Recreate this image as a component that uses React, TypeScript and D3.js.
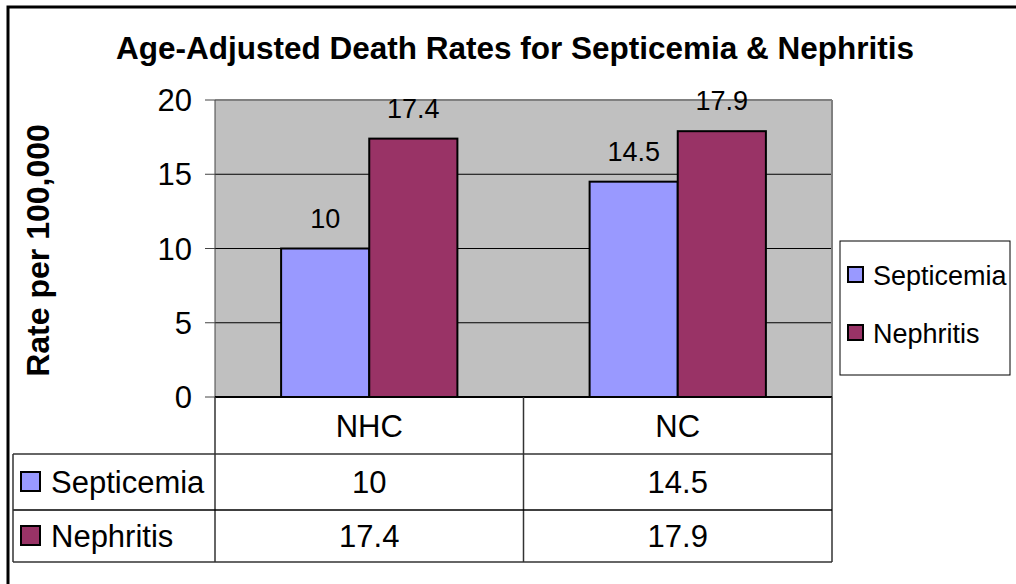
import React from "react";
import { scaleBand, scaleLinear } from "d3";

const categories = ["NHC", "NC"];
const seriesNames = ["Septicemia", "Nephritis"];
const septicemia = [10, 14.5];
const nephritis = [17.4, 17.9];
const seriesValues = [septicemia, nephritis];
const seriesColors = ["#9999FF", "#993366"];
const yTicks = [0, 5, 10, 15, 20];

const FONT = "'Liberation Sans', Arial, sans-serif";

const App: React.FC = () => {
  const width = 1016;
  const height = 584;
  const left = 215;
  const right = 832;
  const top = 100;
  const bottom = 397;

  const x = scaleBand<string>().domain(categories).range([left, right]);
  const barW = x.bandwidth() / 3.5;
  const xs = scaleBand<string>().domain(seriesNames).range([-barW, barW]);
  const y = scaleLinear().domain([0, 20]).range([bottom, top]);

  // table rows
  const catRowBottom = 454;
  const rowBottoms = [510, 562];
  const tableLeft = 13;

  return (
    <div style={{ position: "fixed", left: 0, top: 0 }}>
      <svg width={width} height={height} style={{ display: "block", fontFamily: FONT }}>
        <rect x={0} y={0} width={width} height={height} fill="#fff" />
        {/* outer frame */}
        <rect x={8} y={7} width={width + 20} height={height + 20} fill="none" stroke="#000" strokeWidth={3} />

        <text x={515} y={59} textAnchor="middle" fontSize={31.5} fontWeight="bold">
          Age-Adjusted Death Rates for Septicemia &amp; Nephritis
        </text>

        {/* plot area */}
        <rect x={left} y={top} width={right - left} height={bottom - top} fill="#C0C0C0" />
        {yTicks.filter((t) => t > 0 && t < 20).map((t) => (
          <line key={t} x1={left} x2={right} y1={y(t)} y2={y(t)} stroke="#000" strokeWidth={1} />
        ))}
        <line x1={left} x2={right} y1={top} y2={top} stroke="#808080" strokeWidth={2} />
        <line x1={right} x2={right} y1={top} y2={bottom} stroke="#808080" strokeWidth={2} />
        <line x1={left} x2={left} y1={top} y2={bottom} stroke="#444" strokeWidth={1} />

        {yTicks.map((t) => (
          <g key={t}>
            <line x1={205} x2={left} y1={y(t)} y2={y(t)} stroke="#444" strokeWidth={1} />
            <text x={192} y={y(t)} dy="0.36em" textAnchor="end" fontSize={31}>
              {t}
            </text>
          </g>
        ))}

        <text
          transform={`translate(49,${(top + bottom) / 2 + 2}) rotate(-90)`}
          textAnchor="middle"
          fontSize={32}
          fontWeight="bold"
        >
          Rate per 100,000
        </text>

        {/* bars */}
        {categories.map((c, ci) => {
          const cx = (x(c) as number) + x.bandwidth() / 2;
          return seriesNames.map((s, si) => {
            const v = seriesValues[si][ci];
            const bx = cx + (xs(s) as number);
            return (
              <g key={c + s}>
                <rect
                  x={bx}
                  y={y(v)}
                  width={xs.bandwidth()}
                  height={bottom - y(v)}
                  fill={seriesColors[si]}
                  stroke="#000"
                  strokeWidth={2}
                />
                <text x={bx + xs.bandwidth() / 2} y={y(v) - 21} textAnchor="middle" fontSize={27}>
                  {v}
                </text>
              </g>
            );
          });
        })}
        <line x1={left} x2={right} y1={bottom} y2={bottom} stroke="#000" strokeWidth={2} />

        {/* data table */}
        <g stroke="#333" strokeWidth={1.5} fill="none">
          <line x1={left} x2={left} y1={bottom} y2={rowBottoms[1]} />
          {categories.map((c) => (
            <line key={c} x1={(x(c) as number) + x.bandwidth()} x2={(x(c) as number) + x.bandwidth()} y1={bottom} y2={rowBottoms[1]} />
          ))}
          <line x1={tableLeft} x2={right} y1={catRowBottom} y2={catRowBottom} />
          <line x1={tableLeft} x2={right} y1={rowBottoms[0]} y2={rowBottoms[0]} stroke="#000" />
          <line x1={tableLeft} x2={right} y1={rowBottoms[1]} y2={rowBottoms[1]} />
          <line x1={tableLeft} x2={tableLeft} y1={catRowBottom} y2={rowBottoms[1]} />
        </g>
        {categories.map((c) => (
          <text key={c} x={(x(c) as number) + x.bandwidth() / 2} y={(bottom + catRowBottom) / 2} dy="0.36em" textAnchor="middle" fontSize={31}>
            {c}
          </text>
        ))}
        {seriesNames.map((s, si) => {
          const y0 = si === 0 ? catRowBottom : rowBottoms[0];
          const cy = (y0 + rowBottoms[si]) / 2;
          return (
            <g key={s}>
              <rect x={21} y={cy - 10} width={19} height={19} fill={seriesColors[si]} stroke="#000" strokeWidth={2} />
              <text x={51} y={cy} dy="0.36em" fontSize={31}>
                {s}
              </text>
              {categories.map((c, ci) => (
                <text key={c} x={(x(c) as number) + x.bandwidth() / 2} y={cy} dy="0.36em" textAnchor="middle" fontSize={31}>
                  {seriesValues[si][ci]}
                </text>
              ))}
            </g>
          );
        })}

        {/* legend */}
        <rect x={840} y={241} width={170} height={134} fill="#fff" stroke="#000" strokeWidth={1} />
        {seriesNames.map((s, si) => (
          <g key={s}>
            <rect x={848} y={267 + si * 58} width={15} height={15} fill={seriesColors[si]} stroke="#000" strokeWidth={2} />
            <text x={873} y={275 + si * 58} dy="0.36em" fontSize={27}>
              {s}
            </text>
          </g>
        ))}
      </svg>
    </div>
  );
};

export default App;
